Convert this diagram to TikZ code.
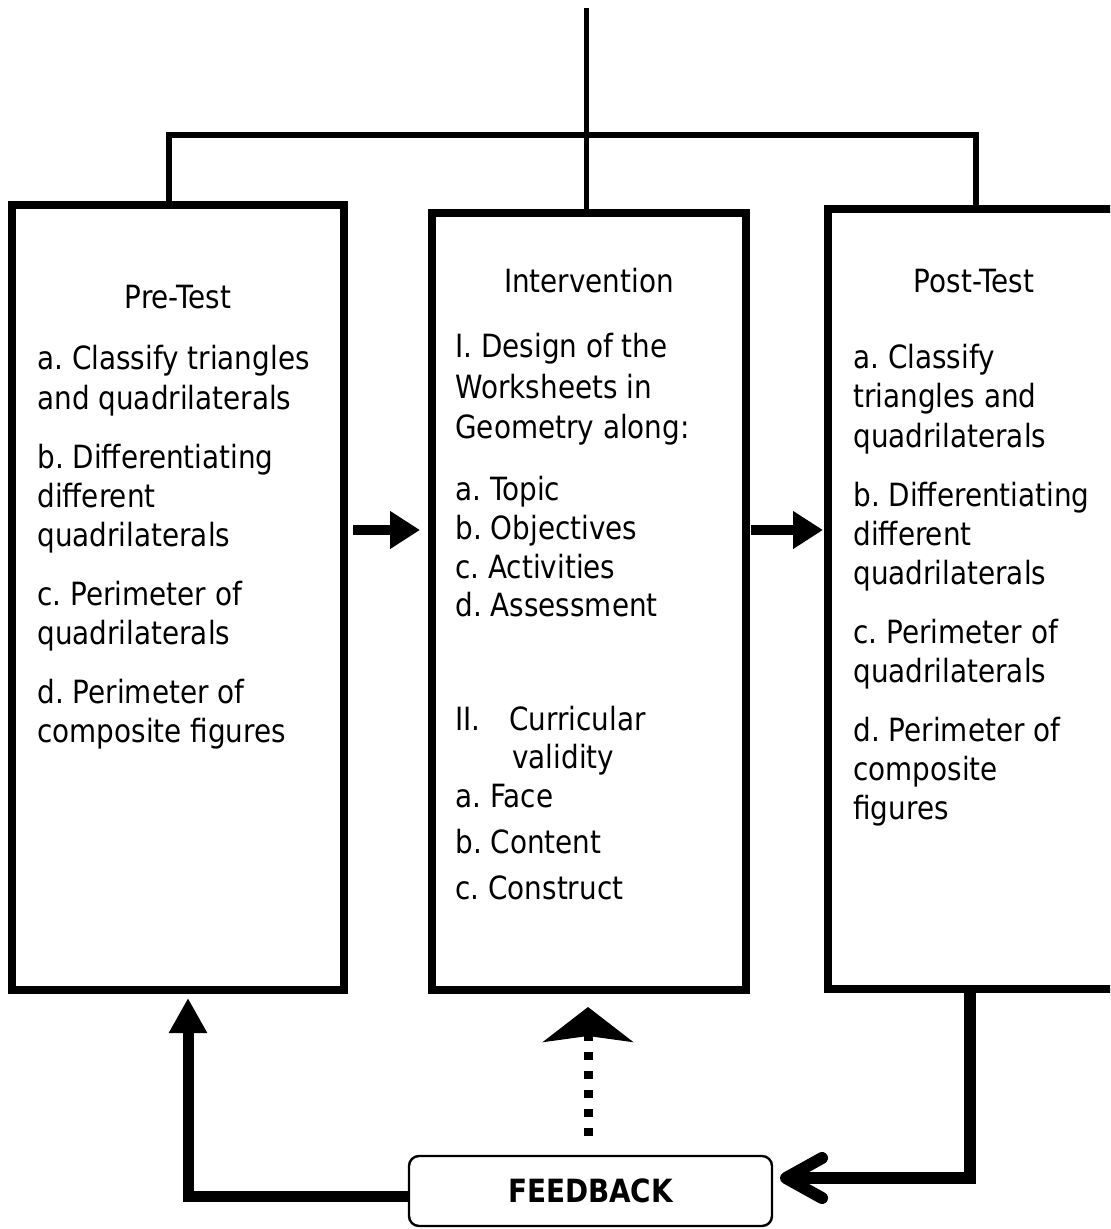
\documentclass[tikz,border=0pt]{standalone}
\usepackage{fontspec}
\setmainfont{DejaVu Sans}[FakeStretch=0.87]
\usetikzlibrary{arrows.meta,positioning}
\newcommand{\bxfont}{\fontsize{16pt}{19.5pt}\selectfont}
\frenchspacing

\begin{document}
\begin{tikzpicture}[x=0.5pt,y=-0.5pt,
  stage/.style={draw, line width=3.75pt, outer sep=0pt, inner sep=0pt},
  ln/.style={anchor=base west, inner sep=0pt, font=\bxfont},
  hd/.style={anchor=base, inner sep=0pt, font=\bxfont},
  link/.style={line width=2.5pt},
  bar/.style={line width=3pt, line join=miter},
  flow/.style={line width=5pt, -{Triangle[length=15pt,width=18pt]}},
  back/.style={line width=5.5pt, line join=miter, -{Triangle[length=17.5pt,width=18pt]}},
  ret/.style={line width=6pt, line join=miter, -{Straight Barb[length=18pt,width=20pt,round]}},
  dots/.style={line width=4.5pt, dash pattern=on 4pt off 5.5pt, -{Stealth[length=17.5pt,width=45pt,inset=3pt]}},
  fbbox/.style={draw, line width=1.2pt, rounded corners=5pt, outer sep=0pt,
    minimum width=181.5pt, minimum height=35pt, font=\bxfont\bfseries},
]
\clip (0,0) rectangle (1110,1229);
% the three stages
\node[stage, minimum width=166pt, minimum height=392.5pt] (pb) at (178,597.5) {};
\node[stage, minimum width=157pt, minimum height=388.5pt] (ib) at (589,601.5) {};
\node[stage, minimum width=146pt, minimum height=390pt] (pob) at (974,599) {};
\node[fbbox] (fb) at (590.5,1191) {FEEDBACK};
% top bracket
\coordinate (top) at (586,8);
\coordinate (jn) at (586,135.5);
\draw[link] (top) -- (top |- ib.north);
\draw[bar] ([xshift=-4.75pt]pb.north) |- (jn) -| ([xshift=0.75pt]pob.north);
% stage texts
\node[hd] (pret) at (178,309) {Pre-Test};
\foreach \yy/\ltext [count=\i] in {370/a. Classify triangles, 409/and quadrilaterals,
  468/b. Differentiating, 507/different, 546/quadrilaterals, 605/c. Perimeter of,
  644/quadrilaterals, 703/d. Perimeter of, 742/composite figures}
  \node[ln] (pre\i) at (37,\yy) {\ltext};
\node[hd] (intt) at (589,293) {Intervention};
\foreach \yy/\ltext [count=\i] in {358/I. Design of the, 399/Worksheets in,
  438/Geometry along:, 500/a. Topic, 539/b. Objectives, 578/c. Activities,
  616/d. Assessment, 730/{\makebox[27pt][l]{II.}Curricular}, 768/{\hspace*{28.5pt}validity},
  807/a. Face, 853/b. Content, 899/c. Construct}
  \node[ln] (int\i) at (455,\yy) {\ltext};
\node[hd] (post) at (974,293) {Post-Test};
\foreach \yy/\ltext [count=\i] in {369/a. Classify, 408/triangles and, 447/quadrilaterals,
  506/b. Differentiating, 545/different, 584/quadrilaterals, 643/c. Perimeter of,
  682/quadrilaterals, 741/d. Perimeter of, 780/composite, 819/figures}
  \node[ln] (pos\i) at (853,\yy) {\ltext};
% arrows between stages
\coordinate (ar) at (0,530);
\draw[flow, shorten <=4.5pt, shorten >=6pt] (pb.east |- ar) -- (ib.west |- ar);
\draw[flow, shorten <=2.5pt, shorten >=2.5pt] (ib.east |- ar) -- (pob.west |- ar);
% feedback loop
\draw[ret] ([xshift=-2pt]pob.south) |- ([xshift=4pt,yshift=6.5pt]fb.east);
\draw[back] ([yshift=-2.5pt]fb.west) -| ([xshift=5pt,yshift=-4pt]pb.south);
\draw[dots] ([xshift=-1.25pt,yshift=10pt]fb.north) -- ([xshift=-0.5pt,yshift=-8.5pt]ib.south);
\end{tikzpicture}
\end{document}
